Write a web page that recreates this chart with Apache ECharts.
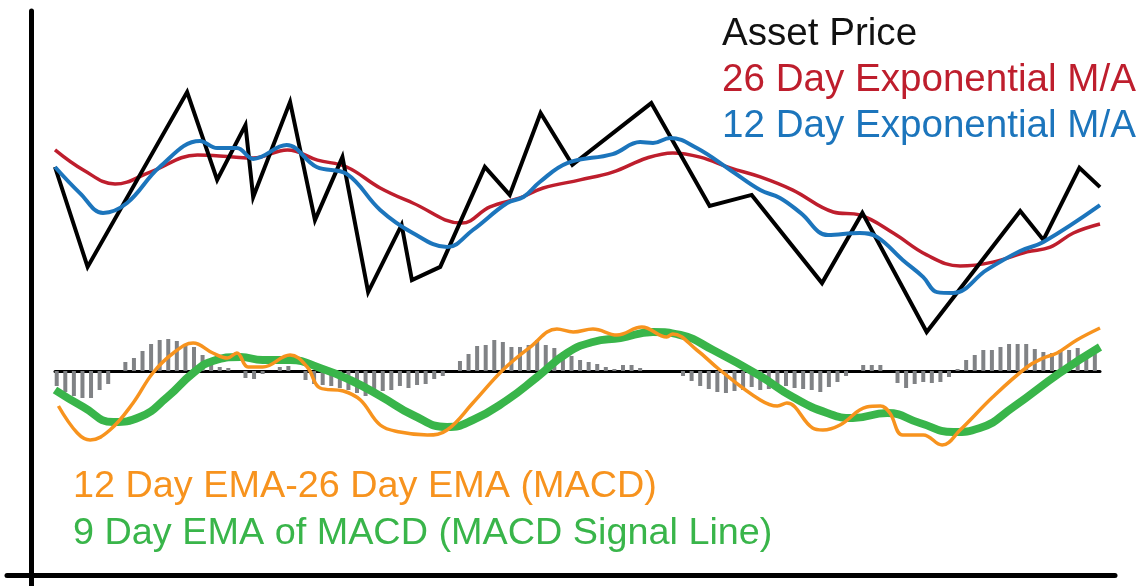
<!DOCTYPE html>
<html>
<head>
<meta charset="utf-8">
<style>
  html, body { margin: 0; padding: 0; background: #fff; }
  #root { width: 1140px; height: 586px; }
</style>
<script src="https://cdn.jsdelivr.net/npm/echarts@6/dist/echarts.min.js"></script>
</head>
<body>
<div id="root"></div>
<script>
// price panel, [day, price]
const assetPrice = [
  [-0.2, 61.0], [3.6, 27.7], [15.2, 86.0], [18.7, 56.7], [22.0, 75.0], [22.9, 51.0],
  [27.2, 82.7], [30.1, 43.3], [33.3, 64.3], [36.3, 19.3], [40.2, 41.7], [41.4, 23.3],
  [44.7, 27.7], [49.9, 61.0], [52.8, 51.7], [56.4, 79.0], [60.1, 61.7], [69.3, 82.3],
  [76.1, 48.0], [81.0, 51.7], [89.2, 22.3], [93.9, 45.7], [101.4, 6.0], [112.3, 46.3],
  [115.0, 36.7], [119.2, 60.7], [121.6, 54.3]
];
const ema26 = [
  [-0.2, 66.7], [3.1, 60.0], [6.8, 55.3], [10.9, 59.3], [16.4, 65.0], [20.6, 64.3],
  [22.9, 64.0], [26.9, 66.7], [30.4, 63.3], [33.8, 61.0], [37.7, 54.0], [41.5, 49.0],
  [47.2, 42.3], [50.5, 47.7], [54.0, 50.7], [56.7, 54.0], [61.0, 56.7], [64.8, 59.3],
  [68.8, 64.0], [71.8, 65.7], [75.0, 64.3], [78.5, 60.7], [82.0, 57.7], [85.8, 53.3],
  [90.5, 46.0], [93.6, 45.0], [97.5, 39.0], [101.4, 31.7], [105.3, 28.0], [109.1, 29.3],
  [113.1, 32.7], [115.8, 34.3], [118.5, 39.0], [121.6, 42.0]
];
const ema12 = [
  [-0.2, 61.0], [2.7, 52.3], [5.4, 45.7], [8.2, 49.0], [12.0, 61.0], [16.7, 69.7],
  [18.7, 67.3], [21.0, 67.3], [22.9, 63.7], [26.8, 68.3], [30.3, 61.0], [33.8, 58.7],
  [37.7, 46.7], [41.5, 39.0], [45.5, 34.3], [48.5, 40.0], [52.5, 49.0], [54.4, 51.0],
  [56.3, 56.0], [59.5, 62.3], [64.8, 65.3], [68.0, 69.3], [69.5, 69.0], [71.5, 70.7],
  [74.6, 67.3], [78.5, 60.0], [82.0, 53.3], [84.3, 50.7], [86.7, 45.7], [89.9, 38.3],
  [93.6, 39.0], [95.6, 37.7], [98.6, 30.0], [101.0, 24.3], [102.6, 19.3], [104.5, 19.0],
  [108.4, 26.7], [112.3, 33.0], [115.0, 36.0], [121.6, 48.3]
];

// MACD panel, [day, value]
const macd = [
  [0.2, -3.5], [2.4, -6.2], [3.9, -6.9], [6.2, -5.9], [8.9, -3.2], [11.2, -0.2],
  [13.6, 1.8], [15.9, 2.8], [18.2, 1.8], [19.9, 1.3], [21.0, 1.8], [22.3, 0.4],
  [24.0, 0.4], [27.2, 1.6], [29.2, 0.4], [30.7, -1.7], [33.4, -2.0], [35.4, -2.9],
  [37.7, -5.4], [40.0, -6.1], [43.2, -6.4], [45.5, -5.9], [48.5, -3.2], [52.0, 0.1],
  [55.2, 2.4], [58.3, 4.2], [60.2, 3.9], [62.5, 4.2], [65.3, 3.6], [68.2, 4.4],
  [71.1, 3.4], [71.8, 3.7], [74.6, 2.1], [77.3, 0.1], [82.0, -2.9], [84.0, -3.5],
  [85.1, -3.2], [88.1, -5.7], [89.3, -5.9], [91.3, -5.4], [94.4, -3.6], [96.0, -3.5],
  [97.1, -4.2], [98.6, -6.4], [101.0, -6.4], [103.2, -7.4], [105.3, -5.9], [109.1, -2.6],
  [113.1, 0.4], [115.0, 1.3], [116.6, 1.8], [118.9, 3.1], [121.6, 4.3]
];
const signal = [
  [-0.2, -1.9], [3.1, -3.6], [6.6, -5.1], [9.7, -4.6], [12.9, -2.6], [15.9, -0.2],
  [18.2, 1.0], [21.4, 1.4], [24.0, 1.1], [27.2, 1.1], [30.7, 0.3], [34.2, -0.9],
  [37.7, -2.5], [41.5, -4.4], [45.5, -5.6], [48.5, -4.9], [52.5, -2.9], [56.0, -0.6],
  [59.5, 1.8], [62.5, 2.9], [65.7, 3.3], [69.5, 3.9], [72.7, 3.6], [76.5, 2.1],
  [82.0, -0.5], [85.8, -2.6], [89.8, -4.2], [92.8, -4.7], [96.8, -4.2], [100.6, -5.2],
  [104.5, -6.1], [107.6, -5.7], [111.5, -3.6], [116.9, -0.2], [121.6, 2.4]
];
// one bar per day, days 0..121
const histogram = [
  -1.5, -2.1, -2.5, -2.7, -2.7, -1.9, -1.3, 0, 0.9, 1.3,
  2.0, 2.7, 3.1, 3.2, 3.0, 2.7, 2.4, 1.6, 0.8, 0.4,
  0.3, 0, -0.7, -0.8, -0.3, 0, 0.4, 0.5, 0, -0.9,
  -1.3, -1.4, -1.5, -1.7, -1.9, -2.2, -2.5, -2.1, -2.0, -1.9,
  -1.5, -1.7, -1.4, -1.3, -0.8, -0.5, 0, 1.0, 1.7, 2.5,
  2.6, 3.1, 2.9, 2.4, 2.4, 2.6, 3.1, 2.6, 2.3, 1.9,
  1.5, 1.1, 0.9, 0.7, 0.4, 0.2, 0.6, 0.6, 0.3, 0,
  0, 0, 0, -0.5, -1.0, -1.5, -1.8, -2.1, -2.2, -2.0,
  -1.9, -1.6, -1.9, -1.8, -1.6, -1.5, -1.7, -1.8, -1.9, -2.1,
  -1.6, -1.1, -0.5, 0, 0.6, 0.6, 0.6, 0, -1.2, -1.7,
  -1.3, -1.1, -1.2, -1.1, -0.6, 0.2, 1.1, 1.6, 2.1, 2.1,
  2.4, 2.7, 2.7, 2.7, 2.2, 1.9, 1.8, 2.1, 2.1, 2.3,
  1.9, 1.7
];

const labelsTop = ['Asset Price', '26 Day Exponential M/A', '12 Day Exponential M/A'];
const labelsBottom = ['12 Day EMA-26 Day EMA (MACD)', '9 Day EMA of MACD (MACD Signal Line)'];

const BLACK = '#000000', RED = '#BE1E2D', BLUE = '#1C75BC';
const ORANGE = '#F7931E', GREEN = '#39B54A', GREY = '#808285';
const FONT = '"Liberation Sans", Arial, Helvetica, sans-serif';

let myChart = echarts.init(document.getElementById('root'), null, { renderer: 'canvas' });

const hidden = {
  axisTick: { show: false },
  axisLabel: { show: false },
  splitLine: { show: false }
};

function textItem(str, x, y, color, size) {
  return {
    type: 'text',
    x: x,
    y: y,
    style: {
      text: str,
      fill: color,
      font: size + 'px ' + FONT,
      verticalAlign: 'middle'
    }
  };
}

let option = {
  animation: false,
  backgroundColor: '#fff',
  grid: [
    { left: 55, right: 40, top: 50, height: 300 },   // price
    { left: 55, right: 40, top: 321, height: 130 },  // macd
    { left: 7, right: 25, top: 11, bottom: 0 }       // frame
  ],
  xAxis: [
    Object.assign({ type: 'value', gridIndex: 0, min: -0.2, max: 121.6, axisLine: { show: false } }, hidden),
    Object.assign({
      type: 'value', gridIndex: 1, min: -0.2, max: 121.6,
      axisLine: { show: true, onZero: true, lineStyle: { color: BLACK, width: 3 } }
    }, hidden),
    Object.assign({
      type: 'value', gridIndex: 2, min: -24, max: 1084,
      axisLine: { show: true, onZero: true, lineStyle: { color: BLACK, width: 5 } }
    }, hidden)
  ],
  yAxis: [
    Object.assign({ type: 'value', gridIndex: 0, min: 0, max: 100, axisLine: { show: false } }, hidden),
    Object.assign({ type: 'value', gridIndex: 1, min: -8, max: 5, axisLine: { show: false } }, hidden),
    Object.assign({
      type: 'value', gridIndex: 2, min: -11, max: 564,
      axisLine: { show: true, onZero: true, lineStyle: { color: BLACK, width: 5 } }
    }, hidden)
  ],
  graphic: [
    textItem(labelsTop[0], 722, 34, '#111111', 38.6),
    textItem(labelsTop[1], 722, 80, RED, 38.6),
    textItem(labelsTop[2], 722, 126, BLUE, 38.6),
    textItem(labelsBottom[0], 73, 487, ORANGE, 37.8),
    textItem(labelsBottom[1], 73, 534, GREEN, 37.8)
  ],
  series: [
    {
      name: 'Histogram', type: 'bar', xAxisIndex: 1, yAxisIndex: 1,
      barWidth: 4, itemStyle: { color: GREY },
      data: histogram.map((v, i) => [i, v]), z: 1
    },
    {
      name: labelsTop[1], type: 'line', xAxisIndex: 0, yAxisIndex: 0,
      smooth: 0.4, showSymbol: false, lineStyle: { color: RED, width: 3.5 },
      data: ema26
    },
    {
      name: labelsTop[0], type: 'line', xAxisIndex: 0, yAxisIndex: 0,
      smooth: false, showSymbol: false,
      lineStyle: { color: BLACK, width: 4, join: 'miter' },
      data: assetPrice
    },
    {
      name: labelsTop[2], type: 'line', xAxisIndex: 0, yAxisIndex: 0,
      smooth: 0.4, showSymbol: false, lineStyle: { color: BLUE, width: 4 },
      data: ema12
    },
    {
      name: labelsBottom[1], type: 'line', xAxisIndex: 1, yAxisIndex: 1,
      smooth: 0.5, showSymbol: false, lineStyle: { color: GREEN, width: 8 },
      data: signal
    },
    {
      name: labelsBottom[0], type: 'line', xAxisIndex: 1, yAxisIndex: 1,
      smooth: 0.4, showSymbol: false, lineStyle: { color: ORANGE, width: 3.5 },
      data: macd
    }
  ]
};

myChart.setOption(option);
</script>
</body>
</html>
